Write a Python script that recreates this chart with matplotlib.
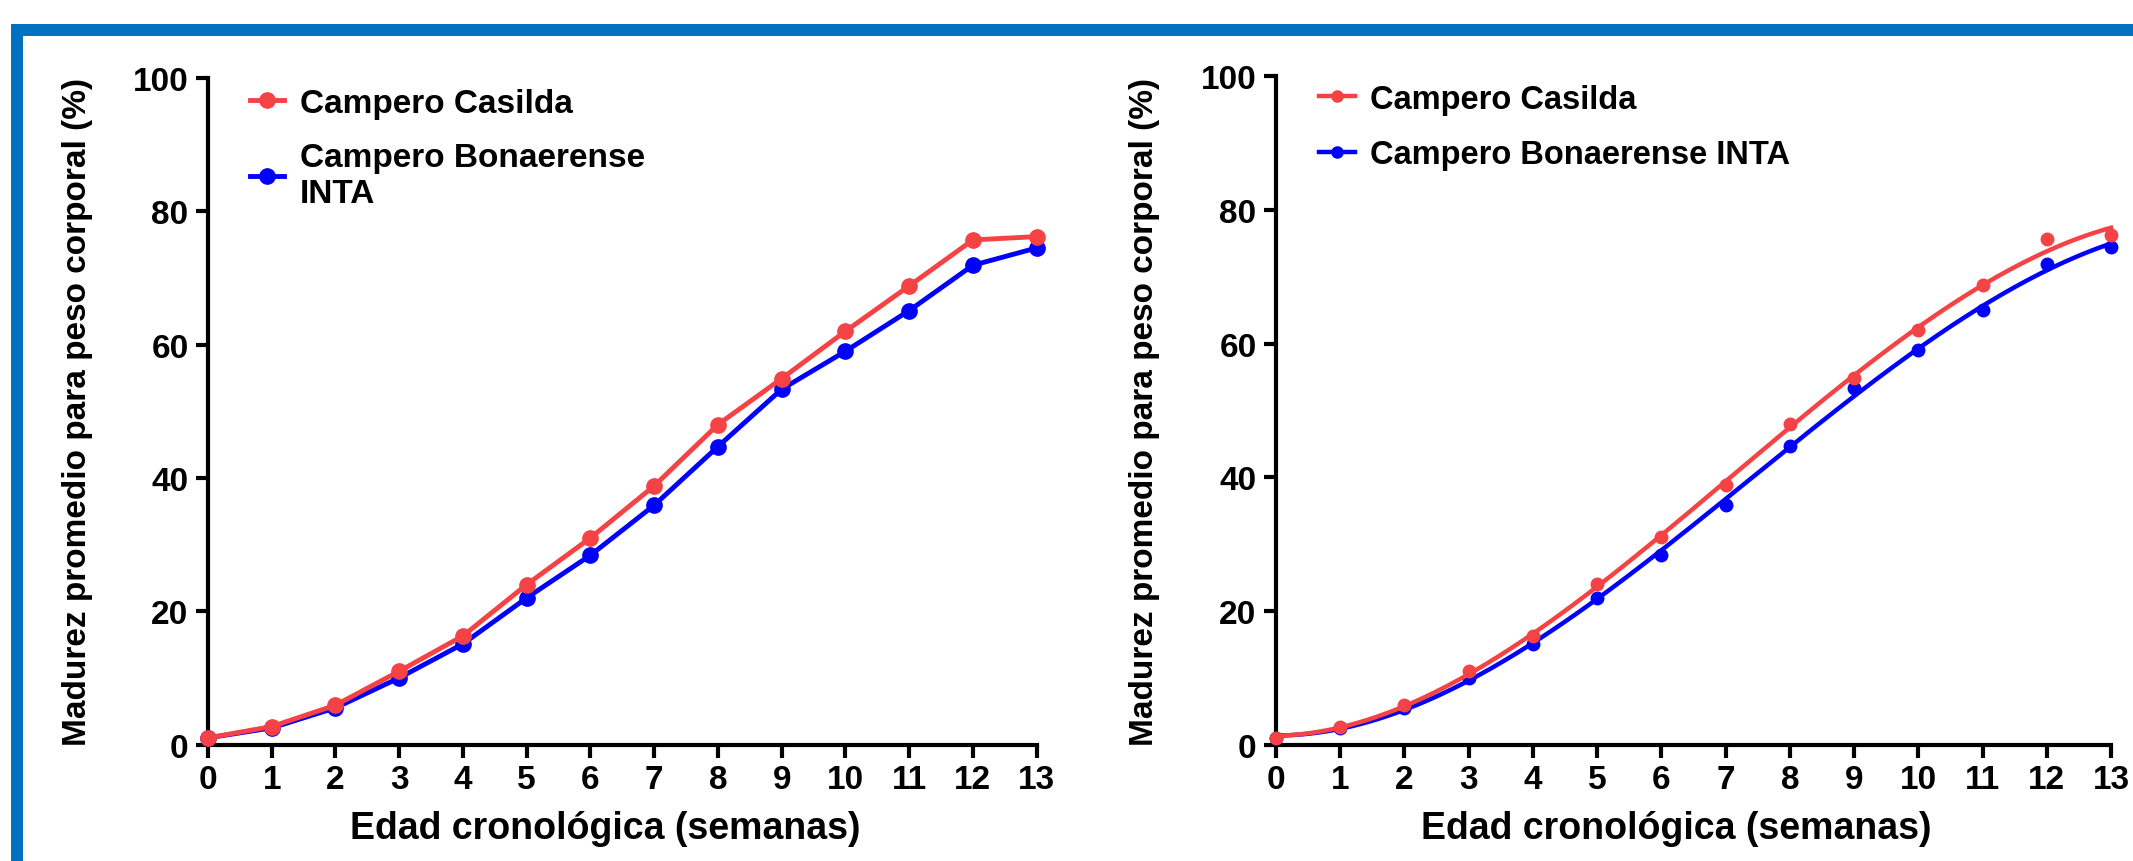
import numpy as np
import matplotlib
matplotlib.use("Agg")
import matplotlib.pyplot as plt
from matplotlib.patches import Rectangle

plt.rcParams['font.family'] = ['Liberation Sans', 'DejaVu Sans']
plt.rcParams['font.weight'] = 'bold'

# data
semanas = [0, 1, 2, 3, 4, 5, 6, 7, 8, 9, 10, 11, 12, 13]
casilda = [1.0, 2.7, 5.9, 11.0, 16.3, 24.0, 31.0, 38.8, 48.0, 54.9, 62.0, 68.8, 75.7, 76.2]
bonaerense = [1.0, 2.5, 5.5, 10.0, 15.1, 22.0, 28.4, 35.9, 44.7, 53.3, 59.0, 65.1, 71.9, 74.5]

y_ticks = [0, 20, 40, 60, 80, 100]
x_label = 'Edad cronológica (semanas)'
y_label = 'Madurez promedio para peso corporal (%)'
labels_left = ['Campero Casilda', 'Campero Bonaerense\nINTA']
labels_right = ['Campero Casilda', 'Campero Bonaerense INTA']

red = '#F44245'
blue = '#0000FF'

fig = plt.figure(figsize=(21.33, 8.62), dpi=100)

# blue frame around the picture (only top and left edges visible)
fig.patches.append(Rectangle((17 / 2133, -0.1), 1.2, 1 - 31 / 862 + 0.1,
                             transform=fig.transFigure, fill=False,
                             edgecolor='#0070C0', linewidth=8.6))

ax1 = fig.add_axes([0.0975, 0.1351, 0.3885, 0.7733])
ax2 = fig.add_axes([0.5982, 0.1351, 0.3915, 0.7750])


def style(ax):
    ax.set_xlim(0, 13)
    ax.set_ylim(0, 100)
    ax.set_xticks(semanas)
    ax.set_yticks(y_ticks)
    for s in ['top', 'right']:
        ax.spines[s].set_visible(False)
    for s in ['left', 'bottom']:
        ax.spines[s].set_linewidth(3)
    ax.tick_params(width=3, length=9, labelsize=24, pad=5)
    for t in ax.get_xticklabels() + ax.get_yticklabels():
        t.set_fontweight('bold')
    ax.set_xlabel(x_label, fontsize=27, fontweight='bold')
    ax.set_ylabel(y_label, fontsize=24, fontweight='bold')
    ax.xaxis.set_label_coords(0.479, -0.098)
    ax.yaxis.set_label_coords(-0.139, 0.5)


# left panel: connected points
ax1.plot(semanas, bonaerense, color=blue, lw=3.5, marker='o', ms=11, clip_on=False,
         label=labels_left[1], zorder=3)
ax1.plot(semanas, casilda, color=red, lw=3.5, marker='o', ms=11, clip_on=False,
         label=labels_left[0], zorder=4)
style(ax1)
h, l = ax1.get_legend_handles_labels()
ax1.legend(h[::-1], l[::-1], loc='upper left', bbox_to_anchor=(0.051, 0.985),
           frameon=False, handlelength=1.0, handletextpad=0.5,
           borderpad=0, borderaxespad=0, labelspacing=0.7,
           prop={'weight': 'bold', 'size': 24})

# right panel: points with fitted curves
xs = np.linspace(0, 13, 200)
for vals, col, lab, z in [(bonaerense, blue, labels_right[1], 3),
                          (casilda, red, labels_right[0], 4)]:
    coef = np.polyfit(semanas, vals, 3)
    ax2.plot(xs, np.polyval(coef, xs), color=col, lw=3.2, zorder=z, clip_on=False)
    ax2.plot(semanas, vals, 'o', color=col, ms=9, clip_on=False, zorder=z)
    ax2.plot([], [], color=col, lw=3.2, marker='o', ms=8, label=lab)
style(ax2)
h, l = ax2.get_legend_handles_labels()
ax2.legend(h[::-1], l[::-1], loc='upper left', bbox_to_anchor=(0.052, 0.989),
           frameon=False, handlelength=1.1, handletextpad=0.45,
           borderpad=0, borderaxespad=0, labelspacing=0.74,
           prop={'weight': 'bold', 'size': 23.5})

fig.savefig('out.png', dpi=100)
